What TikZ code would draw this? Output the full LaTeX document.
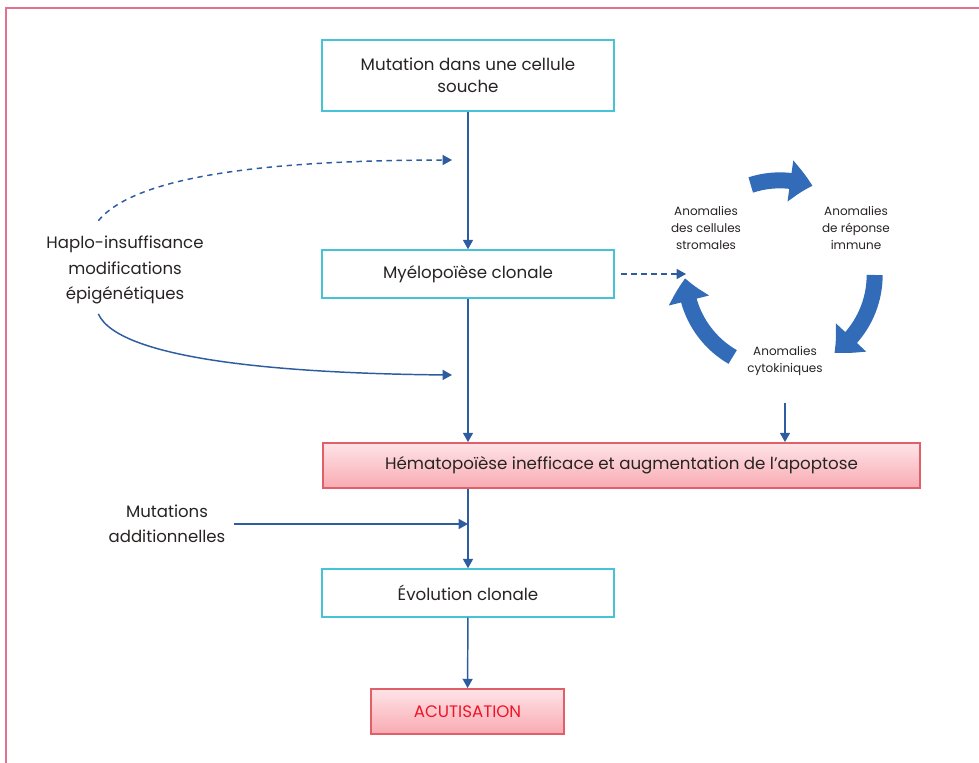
\documentclass[tikz,border=0pt]{standalone}
\usepackage{fontspec}
\setmainfont{Poppins}
\usetikzlibrary{arrows.meta,bending}
\definecolor{framepink}{RGB}{228,112,146}
\definecolor{boxcyan}{RGB}{70,195,215}
\definecolor{linkblue}{RGB}{45,92,160}
\definecolor{cycleblue}{RGB}{50,108,185}
\definecolor{ink}{RGB}{40,35,35}
\definecolor{redline}{RGB}{225,95,105}
\definecolor{redtop}{RGB}{254,228,231}
\definecolor{redbottom}{RGB}{248,170,178}
\definecolor{alertred}{RGB}{240,20,40}

\begin{document}
\begin{tikzpicture}[
    x=0.75pt, y=-0.75pt,
    stage/.style={rectangle, draw=boxcyan, line width=1.1pt, fill=white, minimum width=219pt, align=center, text=ink, font=\fontsize{12.5}{16.5}\selectfont},
    redstage/.style={rectangle, draw=redline, line width=1.1pt, top color=redtop, bottom color=redbottom, align=center, text=ink, font=\fontsize{12.5}{16.5}\selectfont},
    note/.style={align=center, text=ink, font=\fontsize{12.4}{19}\selectfont},
    cyclenote/.style={align=center, text=ink, font=\fontsize{9}{12.5}\selectfont},
    arrow/.style={-{Triangle[width=7.5pt,length=7pt]}, line width=1.1pt, draw=linkblue},
    dasharrow/.style={arrow, dash pattern=on 4pt off 3.5pt},
    cyclearrow/.style={line width=12pt, draw=cycleblue, -{Triangle[width=30pt,length=17pt,bend]}}
]
    \useasboundingbox (0,0) rectangle (979,763);
    \draw [framepink, line width=1.6pt] (6,770) -- (6,8) -- (990,8);

    % main chain
    \node (mutation) [stage, minimum height=53pt] at (468,75.5) {Mutation dans une cellule\\souche};
    \node (myelo) [stage, minimum height=36pt] at (468,274) {Myélopoïèse clonale};
    \node (hemato) [redstage, minimum width=448pt, minimum height=34pt] at (621.5,465.5) {Hématopoïèse inefficace et augmentation de l’apoptose};
    \node (evolution) [stage, minimum height=36pt] at (468,593) {Évolution clonale};
    \node (acut) [redstage, minimum width=145pt, minimum height=34pt, text=alertred] at (467.5,711.5) {ACUTISATION};

    % side notes
    \node (haplo) [note] at (125,270) {Haplo-insuffisance\\modifications\\épigénétiques};
    \node (addmut) [note, font=\fontsize{12.4}{18.5}\selectfont] at (167,524) {Mutations\\additionnelles};

    % cycle
    \coordinate (cycle) at (780,275);
    \node (stroma) [cyclenote] at (706,228) {Anomalies\\des cellules\\stromales};
    \node (immune) [cyclenote] at (856,228) {Anomalies\\de réponse\\immune};
    \node (cyto) [cyclenote] at (785,361) {Anomalies\\cytokiniques};
    \draw [cyclearrow] ([shift={(108:71pt)}]cycle) arc[start angle=108, end angle=70, radius=71pt];
    \draw [cyclearrow] ([shift={(0:71pt)}]cycle) arc[start angle=0, end angle=-55, radius=71pt];
    \draw [cyclearrow] ([shift={(-120:71pt)}]cycle) arc[start angle=-120, end angle=-178, radius=71pt];

    % connectors
    \draw [arrow] (mutation) -- (myelo);
    \draw [arrow] (myelo) -- (myelo |- hemato.north);
    \draw [arrow] (myelo |- hemato.south) -- (evolution);
    \draw [arrow] (evolution) -- (acut);
    \draw [arrow] ([xshift=3pt]addmut.east) -- (addmut.east -| evolution.north);
    \draw [dasharrow] ([xshift=-20pt, yshift=8pt]haplo.north) .. controls (140,170) and (300,160) .. (452,160);
    \draw [arrow] ([xshift=-20pt, yshift=-4pt]haplo.south) .. controls (120,362) and (300,374) .. (452,375);
    \draw [dasharrow] ([xshift=5pt]myelo.east) -- (myelo.east -| 686,0);
    \draw [arrow] ([yshift=-17pt]cyto.south) -- (cyto.south |- hemato.north);
\end{tikzpicture}
\end{document}
